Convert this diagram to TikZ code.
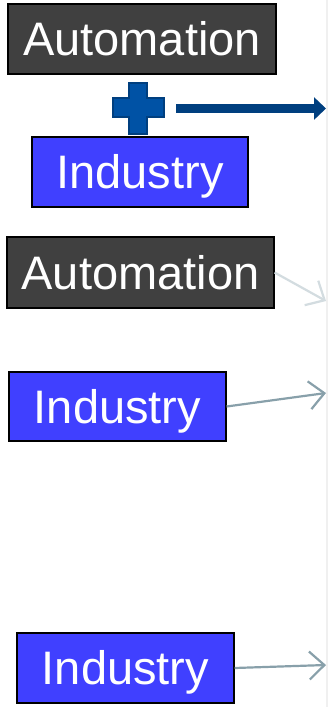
\documentclass[tikz,border=0pt]{standalone}
\usepackage{fontspec}
\setmainfont{Liberation Sans}
\usetikzlibrary{arrows.meta}
\definecolor{darkbox}{HTML}{404040}
\definecolor{bluebox}{HTML}{4040FF}
\definecolor{navy}{HTML}{003F7F}
\definecolor{crossfill}{HTML}{0052A5}
\definecolor{lightarr}{HTML}{D3DCE0}
\definecolor{midarr}{HTML}{88A0AA}
\definecolor{edgegray}{HTML}{F0F0F0}
\tikzset{
  box/.style={draw=black, line width=1.2pt, text=white, inner sep=0pt,
    font=\fontsize{47}{47}\selectfont, anchor=center,
    text height=33.6pt, text depth=0pt},
  autobox/.style={box, fill=darkbox},
  indbox/.style={box, fill=bluebox},
  thinarrow/.style={line width=2.2pt, -{Straight Barb[length=15pt,width=28pt,line width=2.2pt]}},
}
\begin{document}
\begin{tikzpicture}[x=1pt,y=-1pt]
\useasboundingbox (0,0) rectangle (328,707);
\fill[white] (0,0) rectangle (328,707);
\fill[edgegray] (326,0) rectangle (328,707);
% boxes
\node[autobox, minimum width=268pt, minimum height=70pt] (a1) at (142,39) {Automation};
\node[indbox, minimum width=216pt, minimum height=70pt] (i1) at (140,172) {Industry};
\node[autobox, minimum width=267pt, minimum height=71pt] (a2) at (140.5,272.5) {Automation};
\node[indbox, minimum width=217pt, minimum height=69pt] (i2) at (117.5,406.5) {Industry};
\node[indbox, minimum width=217pt, minimum height=70pt] (i3) at (125.5,668) {Industry};
% plus sign
\draw[navy, line width=2pt, fill=crossfill]
  (129,83) -- (147,83) -- (147,98) -- (164,98) -- (164,117) -- (147,117)
  -- (147,134) -- (129,134) -- (129,117) -- (113,117) -- (113,98) -- (129,98) -- cycle;
% coordinates for arrow ends
\coordinate (p) at (176,108.5);
\coordinate (t1) at (326,108.5);
\coordinate (t2) at (326,301);
\coordinate (t3) at (326,393);
\coordinate (t4) at (326,665);
\draw[navy, line width=9pt, -{Triangle[length=12pt,width=22pt]}] (p) -- (t1);
\draw[lightarr, thinarrow] (a2.east) -- (t2);
\draw[midarr, thinarrow] (i2.east) -- (t3);
\draw[midarr, thinarrow] (i3.east) -- (t4);
\end{tikzpicture}
\end{document}
